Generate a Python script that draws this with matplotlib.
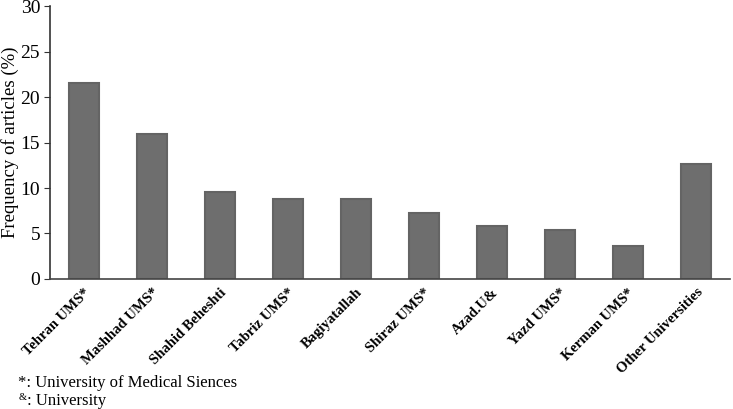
import matplotlib.pyplot as plt
import numpy as np

# universities and share of articles (%)
universities = ['Tehran UMS*', 'Mashhad UMS*', 'Shahid Beheshti', 'Tabriz UMS*',
                'Bagiyatallah', 'Shiraz UMS*', 'Azad.U&', 'Yazd UMS*',
                'Kerman UMS*', 'Other Universities']
freq = [21.5, 15.9, 9.6, 8.8, 8.8, 7.3, 5.8, 5.4, 3.6, 12.6]

plt.rcParams['font.family'] = ['Liberation Serif', 'DejaVu Serif']

fig = plt.figure(figsize=(7.33, 4.09), dpi=100)
ax = fig.add_axes([0.068, 0.318, 0.928, 0.667])

x = np.arange(len(universities))
ax.bar(x, freq, width=0.44, color='#6e6e6e', edgecolor='#646464', linewidth=1.5, zorder=2)

ax.set_xlim(-0.5, len(universities) - 0.5)
ax.set_ylim(0, 30)
ax.set_yticks(range(0, 31, 5))
ax.tick_params(axis='y', labelsize=14, length=4, direction='out', color='#333333', pad=3)
ax.tick_params(axis='x', length=0, pad=5)
ax.set_xticks(x)
ax.set_xticklabels(universities, rotation=45, ha='right', rotation_mode='anchor',
                   fontsize=10.5, fontweight='bold')
ax.set_ylabel('Frequency of articles (%)', fontsize=13.5, labelpad=1)

for s in ['top', 'right']:
    ax.spines[s].set_visible(False)
ax.spines['left'].set_color('#333333')
ax.spines['bottom'].set_color('#444444')
ax.spines['left'].set_linewidth(1.2)
ax.spines['bottom'].set_linewidth(1.2)

fig.text(0.025, 0.055, '*: University of Medical Siences', fontsize=12)
fig.text(0.025, 0.022, '&', fontsize=7.5)
fig.text(0.037, 0.010, ': University', fontsize=12)

fig.savefig('out.png', dpi=100)
